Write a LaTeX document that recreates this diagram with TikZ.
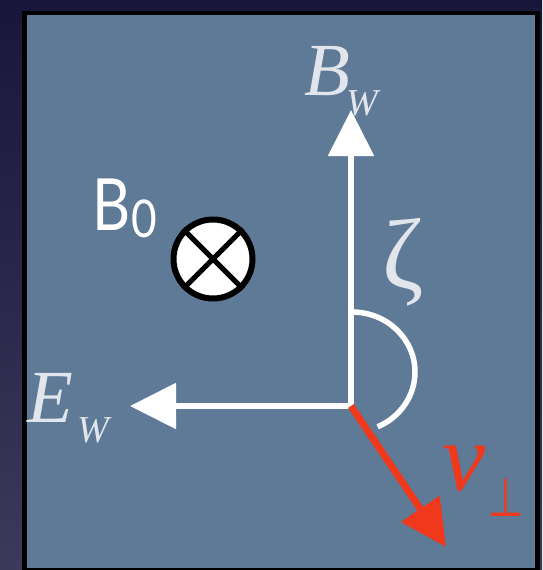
\documentclass[tikz,border=0pt]{standalone}
\usepackage{fontspec}
\setmainfont{Liberation Serif}
\newfontfamily\gillish{Lato}
\usetikzlibrary{arrows.meta}
\definecolor{bgdark}{HTML}{18163A}
\definecolor{bglight}{HTML}{3C3A5A}
\definecolor{panel}{HTML}{5F7A97}
\definecolor{vred}{HTML}{F0391C}
\definecolor{lbl}{HTML}{E2E6EC}
\tikzset{
  whitevec/.style={draw=white, line width=5.5pt, line join=miter},
  redvec/.style={draw=vred, line width=7pt, -{Triangle[length=46pt,width=45pt]}},
  mathlbl/.style={text=lbl, inner sep=0pt, font=\itshape\fontsize{75}{75}\selectfont},
  sublbl/.style={text=lbl, inner sep=0pt, font=\itshape\fontsize{38}{38}\selectfont},
}
\begin{document}
\begin{tikzpicture}[x=1pt,y=-1pt]
\useasboundingbox (0,0) rectangle (542,570);
\shade[top color=bgdark, bottom color=bglight] (0,0) rectangle (542,570);
\fill[black] (22,11) rectangle (540,570);
\fill[panel] (27,15) rectangle (535,568);

% origin and vector tips
\coordinate (O) at (351,406);
\coordinate (Btip) at (351,110);
\coordinate (Etip) at (130,406);
\coordinate (Vtip) at (446,547);

\draw[whitevec, {Triangle[length=46pt,width=45pt]}-{Triangle[length=46pt,width=45pt]}] (Btip) -- (O) -- (Etip);
\draw[white, line width=5.5pt] (352,312) arc[start angle=90, end angle=-66, x radius=63pt, y radius=60pt];
\draw[redvec] (O) -- (Vtip);

% labels
\node[mathlbl, anchor=base west] (BW) at (304,95) {B};
\node[sublbl, anchor=base west] (BWs) at (346,115) {W};
\node[mathlbl, anchor=base west] (EW) at (27,422) {E};
\node[sublbl, anchor=base west] (EWs) at (77,442) {W};
\node[text=lbl, inner sep=0pt, font=\fontsize{100}{100}\selectfont] (zeta) at (403,262) {ζ};
\node[text=vred, inner sep=0pt, anchor=base west, font=\itshape\fontsize{97}{97}\selectfont] (v) at (442,490) {v};
\node[text=vred, inner sep=0pt] (perp) at (505.5,497) {\resizebox{35pt}{38pt}{\boldmath$\perp$}};

% B0 symbol
\node[text=white, inner sep=0pt, anchor=base west, font=\gillish\fontsize{72}{72}\selectfont] (B0) at (92,230) {\scalebox{0.82}[1]{B}};
\node[text=white, inner sep=0pt, anchor=base west, font=\gillish\fontsize{52}{52}\selectfont] (B0s) at (131,237) {\scalebox{0.85}[1]{0}};
\node[circle, draw=black, fill=white, line width=6pt, minimum size=79pt, inner sep=0pt] (into) at (213,259) {};
\draw[black, line width=5pt] (into.north west) -- (into.south east);
\draw[black, line width=5pt] (into.north east) -- (into.south west);
\end{tikzpicture}
\end{document}
